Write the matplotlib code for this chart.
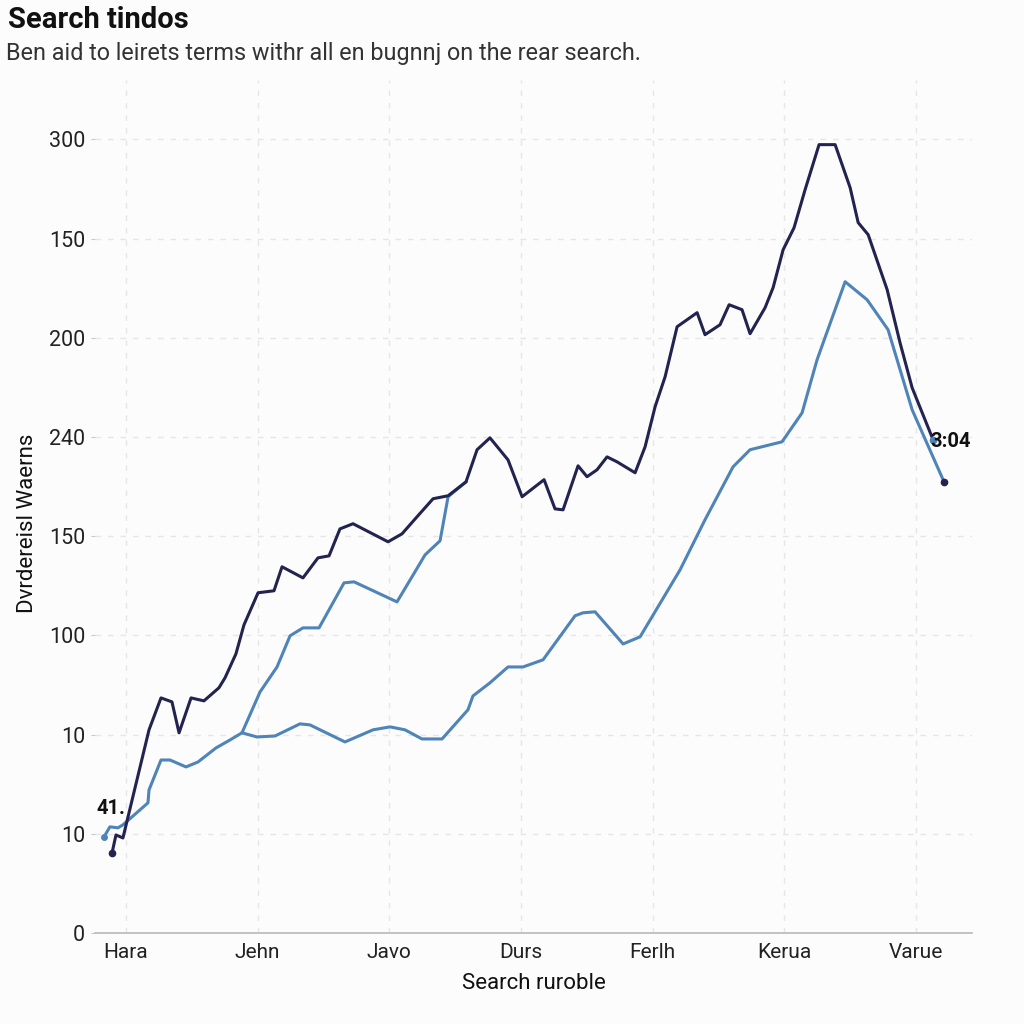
import matplotlib.pyplot as plt

plt.rcParams["font.family"] = ["Roboto", "DejaVu Sans"]

DARK = "#232350"
LIGHT = "#4f84b8"

X_TICKS = [0, 1, 2, 3, 4, 5, 6]
X_LABELS = ["Hara", "Jehn", "Javo", "Durs", "Ferlh", "Kerua", "Varue"]
Y_TICKS = [0, 50, 100, 150, 200, 250, 300, 350, 400]
Y_LABELS = ["0", "10", "10", "100", "150", "240", "200", "150", "300"]

# dark series
dark_x = [-0.106, -0.076, -0.023, 0.175, 0.266, 0.349, 0.403, 0.494, 0.592, 0.706,
          0.752, 0.835, 0.896, 1.003, 1.124, 1.185, 1.344, 1.458, 1.542, 1.625,
          1.724, 1.990, 2.096, 2.210, 2.332, 2.446, 2.582, 2.666, 2.764, 2.901,
          3.008, 3.175, 3.258, 3.319, 3.433, 3.501, 3.577, 3.653, 3.729, 3.866,
          3.942, 4.018, 4.094, 4.185, 4.337, 4.397, 4.511, 4.580, 4.678, 4.739,
          4.853, 4.914, 4.990, 5.073, 5.157, 5.263, 5.385, 5.499, 5.560, 5.636,
          5.780, 5.878, 5.970, 6.129]
dark_y = [40.3, 49.4, 47.9, 102.4, 118.5, 116.5, 100.9, 118.5, 117.0, 123.6,
          128.6, 140.7, 155.3, 171.5, 172.5, 184.6, 179.0, 189.1, 190.1, 203.7,
          206.3, 197.2, 201.2, 209.8, 218.9, 220.4, 227.4, 243.6, 249.6, 238.5,
          219.9, 228.5, 213.8, 213.3, 235.5, 230.0, 233.5, 240.0, 237.5, 232.0,
          245.1, 265.3, 280.4, 305.6, 312.7, 301.6, 306.6, 316.7, 314.2, 302.1,
          315.2, 325.3, 344.4, 355.5, 374.7, 397.4, 397.4, 375.7, 358.1, 352.0,
          324.3, 297.5, 274.8, 248.6]

# light series, early branch that joins the dark line
light_a_x = [-0.167, -0.122, -0.061, -0.023, 0.167, 0.175, 0.266, 0.334, 0.456, 0.547,
             0.684, 0.790, 0.881, 1.018, 1.147, 1.246, 1.344, 1.466, 1.656, 1.732,
             2.058, 2.195, 2.271, 2.385, 2.446, 2.582]
light_a_y = [48.4, 53.5, 53.0, 54.5, 65.6, 72.1, 87.2, 87.2, 83.7, 86.2,
             93.3, 97.3, 100.9, 121.5, 134.1, 149.8, 153.8, 153.8, 176.5, 177.0,
             166.9, 182.1, 190.6, 197.7, 219.9, 227.4]

# light series, lower branch running to the end
light_b_x = [0.881, 0.995, 1.132, 1.321, 1.397, 1.663, 1.876, 2.005, 2.119, 2.248,
             2.400, 2.597, 2.635, 2.764, 2.901, 3.015, 3.167, 3.410, 3.471, 3.562,
             3.775, 3.904, 4.208, 4.397, 4.610, 4.739, 4.982, 5.134, 5.248, 5.461,
             5.628, 5.787, 5.970, 6.212]
light_b_y = [100.9, 98.8, 99.3, 105.4, 104.9, 96.3, 102.4, 103.9, 102.4, 97.8,
             97.8, 112.5, 119.5, 126.1, 134.1, 134.1, 137.7, 159.9, 161.4, 161.9,
             145.7, 149.3, 183.1, 208.3, 235.0, 243.6, 247.6, 262.2, 289.0, 328.3,
             319.2, 304.1, 263.7, 227.4]

fig = plt.figure(figsize=(10.24, 10.24), dpi=100, facecolor="#fcfcfc")
ax = fig.add_axes([0.0928, 0.0889, 0.8565, 0.833])
ax.set_facecolor("#fcfcfc")

grid_kw = dict(color="#e6e6e6", lw=1.0, dashes=(4, 5), zorder=0)
for yv in Y_TICKS[1:]:
    ax.axhline(yv, **grid_kw)
for xv in X_TICKS:
    ax.axvline(xv, **grid_kw)

ax.plot(light_a_x, light_a_y, color=LIGHT, lw=2.2, zorder=2)
ax.plot(light_b_x, light_b_y, color=LIGHT, lw=2.2, zorder=2)
ax.plot(dark_x, dark_y, color=DARK, lw=2.2, zorder=3)

ax.plot(light_a_x[0], light_a_y[0], "o", color=LIGHT, ms=4, zorder=4)
ax.plot(dark_x[0], dark_y[0], "o", color=DARK, ms=4.5, zorder=4)
ax.plot(dark_x[-1], dark_y[-1], "o", color=LIGHT, ms=4.5, zorder=4)
ax.plot(light_b_x[-1], light_b_y[-1], "o", color=DARK, ms=4.5, zorder=4)

ax.text(-0.225, 62.5, "41.", fontsize=14.5, fontweight="bold", color="#111111",
        ha="left", va="center", zorder=5)
ax.text(6.11, 248, "3:04", fontsize=14.5, fontweight="bold", color="#111111",
        ha="left", va="center", zorder=5)

ax.set_xlim(-0.235, 6.425)
ax.set_ylim(0, 430)
ax.set_xticks(X_TICKS)
ax.set_xticklabels(X_LABELS, fontsize=15, color="#222222")
ax.set_yticks(Y_TICKS)
ax.set_yticklabels(Y_LABELS, fontsize=15.5, color="#222222")
ax.tick_params(axis="x", length=0, pad=7)
ax.tick_params(axis="y", length=3, color="#c8c8c8", pad=4)

for side in ["top", "right", "left"]:
    ax.spines[side].set_visible(False)
ax.spines["bottom"].set_color("#b8b8b8")
ax.spines["bottom"].set_linewidth(1.2)

ax.set_xlabel("Search ruroble", fontsize=16, color="#111111", labelpad=8)
ax.set_ylabel("Dvrdereisl Waerns", fontsize=16, color="#111111")
ax.yaxis.set_label_coords(-0.065, 0.48)

fig.text(0.008, 0.980, "Search tindos", fontsize=21, fontweight="bold",
         color="#111111", ha="left", va="center")
fig.text(0.006, 0.948, "Ben aid to leirets terms withr all en bugnnj on the rear search.",
         fontsize=16.8, color="#333333", ha="left", va="center")

fig.savefig("out.png", dpi=100, facecolor=fig.get_facecolor())
